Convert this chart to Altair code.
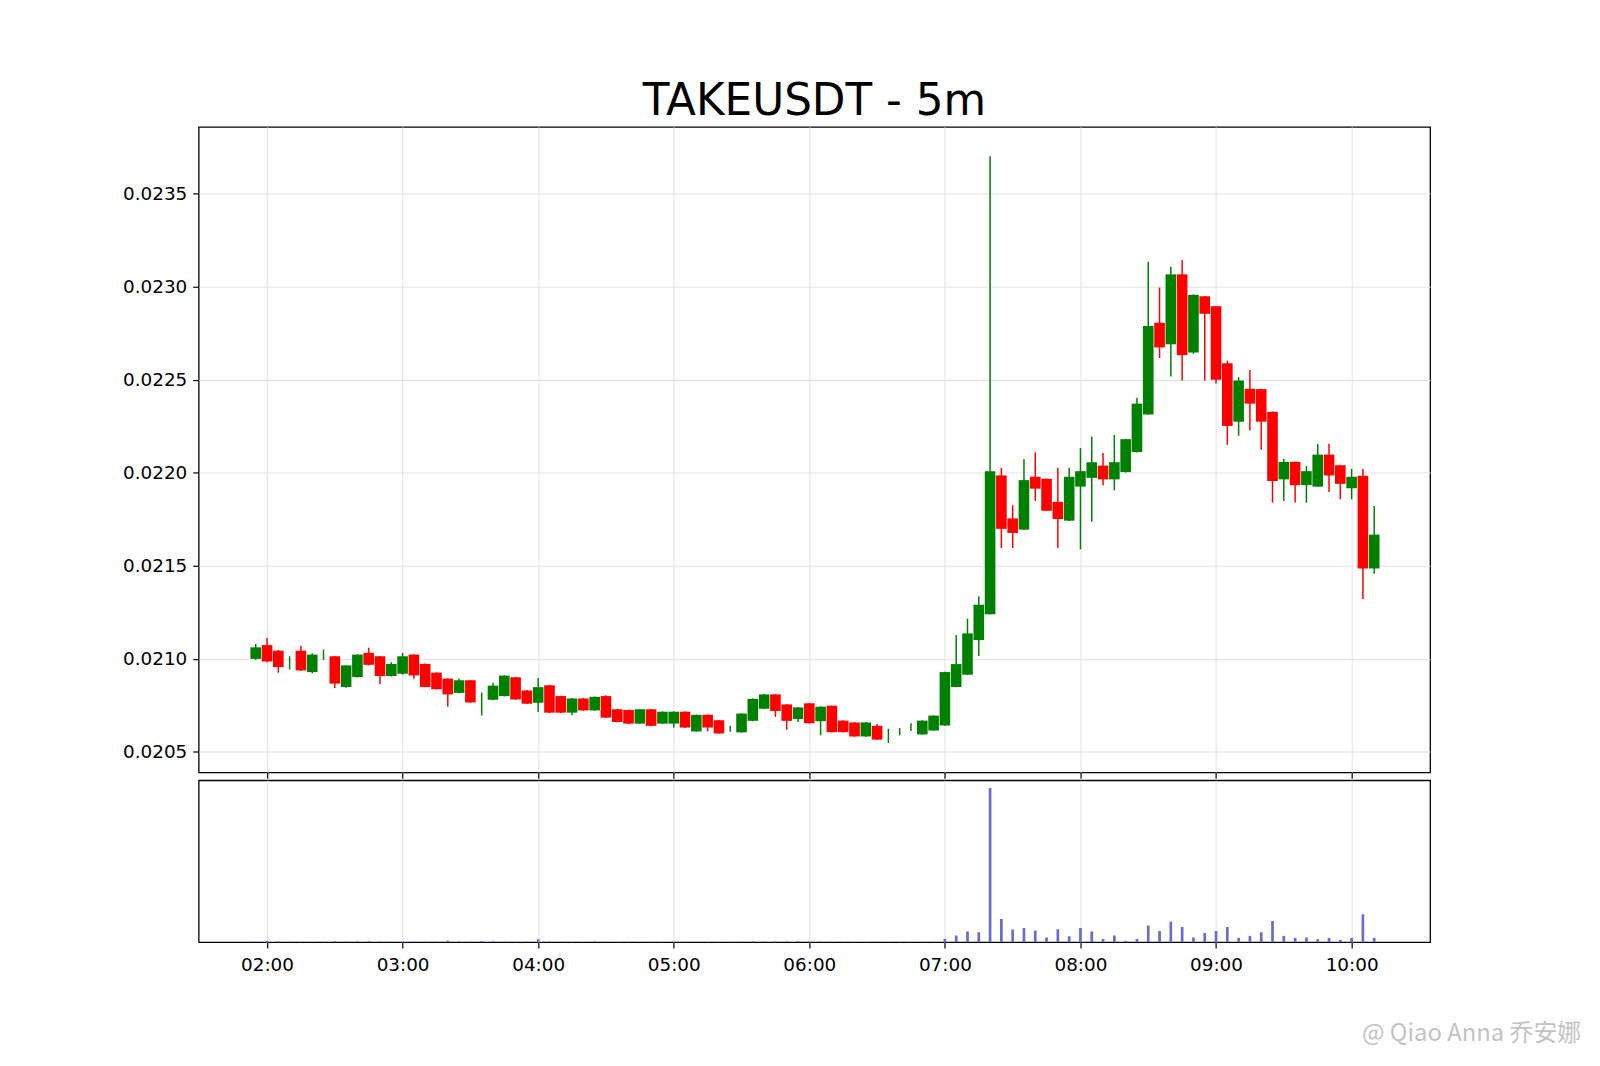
import altair as alt
import pandas as pd

# ---------------- data ----------------
times = [
    "01:55", "02:00", "02:05", "02:10", "02:15", "02:20", "02:25", "02:30", "02:35", "02:40",
    "02:45", "02:50", "02:55", "03:00", "03:05", "03:10", "03:15", "03:20", "03:25", "03:30",
    "03:35", "03:40", "03:45", "03:50", "03:55", "04:00", "04:05", "04:10", "04:15", "04:20",
    "04:25", "04:30", "04:35", "04:40", "04:45", "04:50", "04:55", "05:00", "05:05", "05:10",
    "05:15", "05:20", "05:25", "05:30", "05:35", "05:40", "05:45", "05:50", "05:55", "06:00",
    "06:05", "06:10", "06:15", "06:20", "06:25", "06:30", "06:35", "06:40", "06:45", "06:50",
    "06:55", "07:00", "07:05", "07:10", "07:15", "07:20", "07:25", "07:30", "07:35", "07:40",
    "07:45", "07:50", "07:55", "08:00", "08:05", "08:10", "08:15", "08:20", "08:25", "08:30",
    "08:35", "08:40", "08:45", "08:50", "08:55", "09:00", "09:05", "09:10", "09:15", "09:20",
    "09:25", "09:30", "09:35", "09:40", "09:45", "09:50", "09:55", "10:00", "10:05", "10:10",
]

opens = [
    0.021000, 0.021074, 0.021044, 0.020980, 0.021044, 0.020929, 0.021022, 0.021014, 0.020849, 0.020902,
    0.021032, 0.021014, 0.020908, 0.020920, 0.021023, 0.020973, 0.020926, 0.020894, 0.020817, 0.020885,
    0.020762, 0.020780, 0.020800, 0.020901, 0.020830, 0.020764, 0.020858, 0.020800, 0.020711, 0.020787,
    0.020723, 0.020800, 0.020729, 0.020725, 0.020652, 0.020729, 0.020652, 0.020652, 0.020716, 0.020610,
    0.020699, 0.020670, 0.020624, 0.020605, 0.020667, 0.020732, 0.020809, 0.020755, 0.020677, 0.020761,
    0.020665, 0.020748, 0.020668, 0.020658, 0.020583, 0.020640, 0.020590, 0.020608, 0.020632, 0.020594,
    0.020615, 0.020642, 0.020849, 0.020915, 0.021101, 0.021240, 0.021986, 0.021755, 0.021695, 0.021979,
    0.021968, 0.021844, 0.021743, 0.021926, 0.021973, 0.022039, 0.021965, 0.022004, 0.022112, 0.022314,
    0.022807, 0.022691, 0.023067, 0.022647, 0.022949, 0.022895, 0.022589, 0.022275, 0.022452, 0.022450,
    0.022328, 0.021965, 0.022059, 0.021934, 0.021926, 0.022098, 0.022041, 0.021917, 0.021985, 0.021486,
]
highs = [
    0.021080, 0.021112, 0.021048, 0.021014, 0.021071, 0.021030, 0.021050, 0.021016, 0.020965, 0.021025,
    0.021060, 0.021016, 0.020982, 0.021032, 0.021025, 0.020975, 0.020928, 0.020896, 0.020894, 0.020887,
    0.020819, 0.020872, 0.020912, 0.020903, 0.020832, 0.020897, 0.020860, 0.020802, 0.020789, 0.020789,
    0.020798, 0.020805, 0.020731, 0.020727, 0.020731, 0.020731, 0.020718, 0.020718, 0.020718, 0.020701,
    0.020701, 0.020672, 0.020640, 0.020708, 0.020787, 0.020811, 0.020811, 0.020757, 0.020741, 0.020763,
    0.020745, 0.020750, 0.020670, 0.020660, 0.020660, 0.020650, 0.020624, 0.020628, 0.020654, 0.020670,
    0.020697, 0.020931, 0.021128, 0.021216, 0.021337, 0.023702, 0.022027, 0.021826, 0.022074, 0.022110,
    0.021970, 0.022027, 0.022027, 0.022133, 0.022195, 0.022106, 0.022204, 0.022183, 0.022404, 0.023135,
    0.022996, 0.023108, 0.023144, 0.022959, 0.022951, 0.022897, 0.022603, 0.022514, 0.022553, 0.022452,
    0.022330, 0.022074, 0.022061, 0.022036, 0.022156, 0.022156, 0.022043, 0.022021, 0.022020, 0.021822,
]
lows = [
    0.020995, 0.020980, 0.020926, 0.020943, 0.020935, 0.020923, 0.020995, 0.020844, 0.020845, 0.020900,
    0.020965, 0.020863, 0.020905, 0.020915, 0.020893, 0.020847, 0.020835, 0.020743, 0.020815, 0.020764,
    0.020695, 0.020778, 0.020798, 0.020780, 0.020757, 0.020715, 0.020709, 0.020709, 0.020697, 0.020721,
    0.020721, 0.020682, 0.020659, 0.020650, 0.020650, 0.020638, 0.020650, 0.020630, 0.020629, 0.020608,
    0.020610, 0.020597, 0.020608, 0.020603, 0.020665, 0.020730, 0.020688, 0.020619, 0.020660, 0.020652,
    0.020589, 0.020604, 0.020604, 0.020581, 0.020581, 0.020564, 0.020548, 0.020589, 0.020612, 0.020592,
    0.020613, 0.020640, 0.020847, 0.020913, 0.021016, 0.021238, 0.021596, 0.021596, 0.021693, 0.021849,
    0.021794, 0.021596, 0.021741, 0.021589, 0.021738, 0.021933, 0.021906, 0.022002, 0.022110, 0.022312,
    0.022617, 0.022518, 0.022496, 0.022640, 0.022496, 0.022480, 0.022151, 0.022199, 0.022227, 0.022124,
    0.021840, 0.021849, 0.021840, 0.021840, 0.021924, 0.021897, 0.021858, 0.021858, 0.021322, 0.021457,
]
closes = [
    0.021062, 0.020986, 0.020956, 0.020980, 0.020938, 0.021023, 0.021022, 0.020867, 0.020965, 0.021023,
    0.020968, 0.020908, 0.020973, 0.021014, 0.020911, 0.020849, 0.020837, 0.020809, 0.020885, 0.020766,
    0.020762, 0.020856, 0.020910, 0.020782, 0.020759, 0.020848, 0.020711, 0.020711, 0.020787, 0.020723,
    0.020796, 0.020684, 0.020661, 0.020652, 0.020729, 0.020640, 0.020716, 0.020716, 0.020631, 0.020699,
    0.020631, 0.020599, 0.020624, 0.020706, 0.020785, 0.020809, 0.020720, 0.020667, 0.020739, 0.020654,
    0.020743, 0.020606, 0.020606, 0.020583, 0.020658, 0.020566, 0.020590, 0.020608, 0.020632, 0.020668,
    0.020695, 0.020929, 0.020972, 0.021137, 0.021291, 0.022009, 0.021699, 0.021677, 0.021961, 0.021915,
    0.021796, 0.021752, 0.021979, 0.022009, 0.022057, 0.021965, 0.022057, 0.022181, 0.022372, 0.022789,
    0.022674, 0.023067, 0.022633, 0.022957, 0.022855, 0.022500, 0.022252, 0.022496, 0.022372, 0.022275,
    0.021956, 0.022059, 0.021934, 0.022009, 0.022098, 0.021986, 0.021941, 0.021979, 0.021486, 0.021668,
]
volumes = [
    10000, 20000, 16000, 8000, 10000, 8000, 6000, 18000, 12000, 16000,
    20000, 12000, 8000, 16000, 10000, 8000, 12000, 32000, 16000, 10000,
    20000, 18000, 10000, 8000, 10000, 60000, 12000, 8000, 6000, 6000,
    16000, 8000, 6000, 6000, 8000, 6000, 6000, 12000, 6000, 6000,
    6000, 6000, 6000, 8000, 16000, 12000, 16000, 14000, 18000, 12000,
    14000, 10000, 8000, 6000, 6000, 8000, 6000, 6000, 6000, 6000,
    8000, 66000, 134000, 214000, 200000, 3100000, 466000, 254000, 286000, 234000,
    94000, 260000, 120000, 286000, 214000, 66000, 134000, 26000, 66000, 334000,
    226000, 414000, 306000, 94000, 186000, 226000, 306000, 86000, 126000, 200000,
    426000, 126000, 86000, 94000, 60000, 86000, 46000, 86000, 560000, 86000,
]

hour_ticks = [120, 180, 240, 300, 360, 420, 480, 540, 600]
price_ticks = [0.0205, 0.0210, 0.0215, 0.0220, 0.0225, 0.0230, 0.0235]
title_text = "TAKEUSDT - 5m"
watermark = "@ Qiao Anna 乔安娜"

# ---------------- table ----------------
mins = [int(s[:2]) * 60 + int(s[3:]) for s in times]
df = pd.DataFrame({
    "time": times, "t": mins, "open": opens, "high": highs,
    "low": lows, "close": closes, "volume": volumes,
})
df["dir"] = ["up" if c >= o else "down" for o, c in zip(opens, closes)]
df["b0"] = df["t"] - 2.35
df["b1"] = df["t"] + 2.35
df["v0"] = df["t"] - 0.6
df["v1"] = df["t"] + 0.6

X_DOMAIN = [89.75, 634.75]
Y_DOMAIN = [0.02039, 0.02386]
GRID = "#e3e3e3"
W = 1240
FS = 18.5

color = alt.Color("dir:N", scale=alt.Scale(domain=["up", "down"], range=["#008000", "#ff0000"]), legend=None)

xscale = alt.Scale(domain=X_DOMAIN, nice=False, zero=False)
x_price_axis = alt.Axis(values=hour_ticks, labels=False, ticks=True, tickSize=6, grid=True,
                        gridColor=GRID, domain=False, title=None)
yscale = alt.Scale(domain=Y_DOMAIN, nice=False, zero=False)
y_axis = alt.Axis(values=price_ticks, format=".4f", title=None, grid=True, gridColor=GRID,
                  domain=False, tickSize=6, labelPadding=6)

base = alt.Chart(df)
wicks = base.mark_rule(strokeWidth=1.5).encode(
    x=alt.X("t:Q", scale=xscale, axis=x_price_axis),
    y=alt.Y("low:Q", scale=yscale, axis=y_axis),
    y2="high:Q",
    color=color,
)
bodies = base.mark_bar(strokeWidth=0).encode(
    x=alt.X("b0:Q", scale=xscale, axis=x_price_axis),
    x2="b1:Q",
    y=alt.Y("open:Q", scale=yscale, axis=y_axis),
    y2="close:Q",
    color=color,
)
price = alt.layer(wicks, bodies).properties(
    width=W, height=650,
    title=alt.TitleParams(title_text, fontSize=44, font="DejaVu Sans", fontWeight="normal",
                          anchor="middle", offset=3, color="black"),
)

vmax = max(volumes) * 1.05
x_vol_axis = alt.Axis(values=hour_ticks, labelExpr="(datum.value < 600 ? '0' : '') + floor(datum.value / 60) + ':00'",
                      grid=True, gridColor=GRID, domain=False, tickSize=6, title=None, labelPadding=8)
vol_bars = alt.Chart(df).mark_bar(color="#6b6bd2").encode(
    x=alt.X("v0:Q", scale=xscale, axis=x_vol_axis),
    x2="v1:Q",
    y=alt.Y("volume:Q", scale=alt.Scale(domain=[0, vmax], nice=False), axis=None),
    y2=alt.datum(0),
)
wm = alt.Chart(pd.DataFrame({"w": [watermark]})).mark_text(
    align="right", baseline="middle", fontSize=24, font="Noto Sans CJK SC",
    color="#b5b5b5", opacity=0.8,
).encode(text="w:N", x=alt.value(1392), y=alt.value(256))
volume = alt.layer(vol_bars, wm).properties(width=W, height=163)

chart = alt.vconcat(price, volume, spacing=8, bounds="flush").properties(
    padding={"left": 114, "top": 68, "right": 10, "bottom": 10},
    background="white",
).configure_view(
    stroke="black", strokeWidth=1.3,
).configure_axis(
    labelFont="DejaVu Sans", labelFontSize=FS, labelColor="black", tickColor="black", tickWidth=1.2,
)

chart.save("out.html", embed_options={"renderer": "svg", "actions": False})
